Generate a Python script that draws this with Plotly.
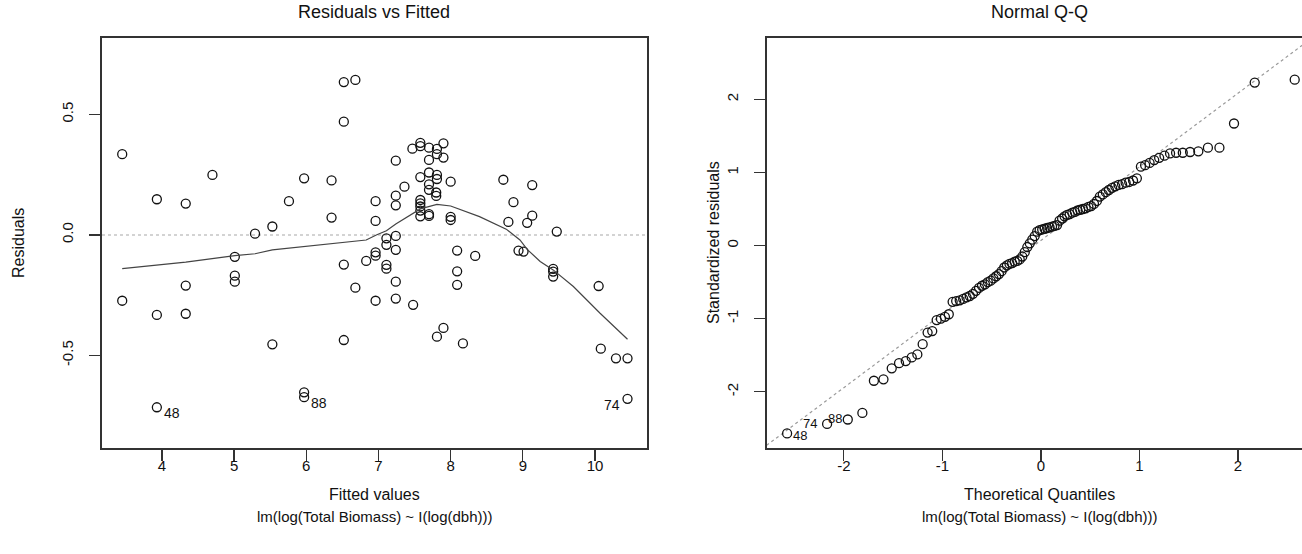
import plotly.graph_objects as go

# ---------------- data ----------------
fitted = [3.45, 3.45, 3.93, 3.93, 3.93, 4.33, 4.33, 4.33, 4.70, 5.01,
          5.01, 5.01, 5.29, 5.53, 5.53, 5.76, 5.97, 5.97, 5.97, 6.35,
          6.35, 6.52, 6.52, 6.52, 6.52, 6.68, 6.68, 6.83, 6.96, 6.96,
          6.96, 6.96, 6.96, 7.11, 7.11, 7.11, 7.11, 7.24, 7.24, 7.24,
          7.24, 7.24, 7.24, 7.24, 7.36, 7.48, 7.47, 7.58, 7.58, 7.58,
          7.58, 7.58, 7.58, 7.58, 7.58, 7.70, 7.70, 7.70, 7.70, 7.70,
          7.70, 7.70, 7.81, 7.81, 7.81, 7.81, 7.80, 7.80, 7.81, 7.90,
          7.90, 7.90, 8.00, 8.00, 8.00, 8.09, 8.09, 8.09, 8.17, 8.34,
          8.73, 8.80, 8.87, 8.94, 9.01, 9.06, 9.13, 9.13, 9.42, 9.42,
          9.42, 9.47, 10.05, 10.08, 10.29, 10.45, 10.45]
residuals = [0.335, -0.273, 0.148, -0.332, -0.715, 0.130, -0.210, -0.327, 0.249, -0.091,
             -0.169, -0.194, 0.005, 0.035, -0.454, 0.140, 0.235, -0.653, -0.673, 0.226,
             0.072, 0.634, 0.470, -0.123, -0.436, 0.643, -0.219, -0.108, 0.140, 0.058,
             -0.072, -0.086, -0.273, -0.014, -0.041, -0.124, -0.140, 0.308, 0.163, 0.123,
             -0.004, -0.062, -0.194, -0.264, 0.200, -0.290, 0.358, 0.382, 0.368, 0.240,
             0.145, 0.131, 0.118, 0.101, 0.077, 0.362, 0.311, 0.259, 0.210, 0.187,
             0.086, 0.079, 0.357, 0.335, 0.249, 0.232, 0.176, 0.162, -0.422, 0.380,
             0.321, -0.386, 0.221, 0.075, 0.062, -0.065, -0.151, -0.207, -0.450, -0.087,
             0.229, 0.054, 0.136, -0.065, -0.069, 0.050, 0.207, 0.080, -0.141, -0.152,
             -0.173, 0.014, -0.212, -0.472, -0.512, -0.512, -0.680]
resid_label_text = ["48", "88", "74"]
resid_label_index = [4, 18, 96]

smooth_x = [3.45, 3.93, 4.33, 5.01, 5.29, 5.53, 6.35, 6.83, 6.97, 7.11, 7.24, 7.58,
            7.81, 8.00, 8.40, 8.77, 8.96, 9.06, 9.24, 9.42, 9.70, 10.07, 10.45]
smooth_y = [-0.140, -0.125, -0.113, -0.086, -0.078, -0.062, -0.038, -0.021, 0.000, 0.017,
            0.045, 0.108, 0.127, 0.120, 0.076, 0.024, -0.021, -0.060, -0.110, -0.145,
            -0.214, -0.325, -0.433]

theoretical_quantiles = [
    -2.576, -2.170, -1.960, -1.812, -1.695, -1.598, -1.514, -1.440, -1.372, -1.311,
    -1.254, -1.200, -1.150, -1.103, -1.058, -1.015, -0.974, -0.935, -0.896, -0.860,
    -0.824, -0.789, -0.755, -0.722, -0.690, -0.659, -0.628, -0.598, -0.568, -0.539,
    -0.510, -0.482, -0.454, -0.426, -0.399, -0.372, -0.345, -0.319, -0.292, -0.266,
    -0.240, -0.215, -0.189, -0.164, -0.138, -0.113, -0.088, -0.063, -0.038, -0.013,
    0.013, 0.038, 0.063, 0.088, 0.113, 0.138, 0.164, 0.189, 0.215, 0.240,
    0.266, 0.292, 0.319, 0.345, 0.372, 0.399, 0.426, 0.454, 0.482, 0.510,
    0.539, 0.568, 0.598, 0.628, 0.659, 0.690, 0.722, 0.755, 0.789, 0.824,
    0.860, 0.896, 0.935, 0.974, 1.015, 1.058, 1.103, 1.150, 1.200, 1.254,
    1.311, 1.372, 1.440, 1.514, 1.598, 1.695, 1.812, 1.960, 2.170, 2.576]
standardized_residuals = [
    -2.57, -2.44, -2.38, -2.29, -1.85, -1.83, -1.68, -1.61, -1.58, -1.53,
    -1.49, -1.35, -1.19, -1.17, -1.02, -1.00, -0.975, -0.94, -0.77, -0.76,
    -0.75, -0.73, -0.71, -0.69, -0.66, -0.62, -0.58, -0.55, -0.53, -0.50,
    -0.48, -0.45, -0.42, -0.39, -0.35, -0.30, -0.27, -0.25, -0.24, -0.22,
    -0.21, -0.19, -0.15, -0.09, -0.02, 0.03, 0.08, 0.13, 0.19, 0.21,
    0.22, 0.23, 0.24, 0.25, 0.26, 0.27, 0.28, 0.34, 0.37, 0.40,
    0.42, 0.43, 0.45, 0.46, 0.48, 0.49, 0.50, 0.51, 0.53, 0.54,
    0.57, 0.61, 0.67, 0.70, 0.73, 0.76, 0.79, 0.81, 0.83, 0.84,
    0.86, 0.87, 0.89, 0.92, 1.08, 1.10, 1.13, 1.17, 1.20, 1.23,
    1.26, 1.27, 1.27, 1.28, 1.29, 1.34, 1.34, 1.67, 2.23, 2.27]
qq_label_text = ["48", "74", "88"]
qq_label_index = [0, 1, 2]
qqline_intercept = 0.07
qqline_slope = 1.007

left_xticks = [4, 5, 6, 7, 8, 9, 10]
left_yticks = [-0.5, 0.0, 0.5]
left_yticklabels = ["-0.5", "0.0", "0.5"]
right_xticks = [-2, -1, 0, 1, 2]
right_xticklabels = ["-2", "-1", "0", "1", "2"]
right_yticks = [-2, -1, 0, 1, 2]
right_yticklabels = ["-2", "-1", "0", "1", "2"]

# ---------------- layout helpers ----------------
W, H = 1302, 554
FONT = "Liberation Sans, Arial, Helvetica, sans-serif"
INK = "#111111"
AXC = "#333333"


def px(x):
    return x / W


def py(y):
    return 1 - y / H


left_xrange = [3.17, 10.72]
left_yrange = [-0.884, 0.817]
right_xrange = [-2.78, 2.65]
right_yrange = [-2.77, 2.84]

fig = go.Figure()

# Residuals vs Fitted
fig.add_trace(go.Scatter(
    x=fitted, y=residuals, mode="markers", xaxis="x", yaxis="y",
    marker=dict(symbol="circle-open", size=9, color=INK, line=dict(width=1.3))))
fig.add_trace(go.Scatter(
    x=smooth_x, y=smooth_y, mode="lines", xaxis="x", yaxis="y",
    line=dict(color="#444444", width=1.2)))

# Normal Q-Q
qq_lx = [right_xrange[0] - 0.2, right_xrange[1] + 0.2]
qq_ly = [qqline_intercept + qqline_slope * v for v in qq_lx]
fig.add_trace(go.Scatter(
    x=qq_lx, y=qq_ly, mode="lines", xaxis="x2", yaxis="y2",
    line=dict(color="#9a9a9a", width=1.2, dash="dot")))
fig.add_trace(go.Scatter(
    x=theoretical_quantiles, y=standardized_residuals, mode="markers",
    xaxis="x2", yaxis="y2",
    marker=dict(symbol="circle-open", size=9, color=INK, line=dict(width=1.3))))

axis_common = dict(showgrid=False, zeroline=False, showline=True, linecolor=AXC,
                   linewidth=1.6, ticks="outside", ticklen=11, tickwidth=1.3,
                   tickcolor=AXC, tickfont=dict(family=FONT, size=15, color=INK))

fig.update_layout(
    width=W, height=H, margin=dict(l=0, r=0, t=0, b=0),
    paper_bgcolor="white", plot_bgcolor="white", showlegend=False,
    hovermode=False,
    font=dict(family=FONT, color=INK),
    xaxis=dict(domain=[px(102), px(647)], range=left_xrange, anchor="y",
               tickvals=left_xticks, mirror=True, ticklabelstandoff=-8,
               **axis_common),
    yaxis=dict(domain=[py(448), py(38)], range=left_yrange, anchor="x",
               tickvals=left_yticks, ticktext=left_yticklabels, tickangle=-90,
               ticklabelstandoff=10, mirror=True, **axis_common),
    xaxis2=dict(domain=[px(767), 1.0], range=right_xrange, anchor="y2",
                tickvals=right_xticks, ticktext=right_xticklabels, mirror=True,
                ticklabelstandoff=-8, **axis_common),
    yaxis2=dict(domain=[py(448), py(38)], range=right_yrange, anchor="x2",
                tickvals=right_yticks, ticktext=right_yticklabels, tickangle=-90,
                ticklabelstandoff=10, mirror=False, **axis_common),
)

# zero reference line on the left panel
fig.add_shape(type="line", xref="x domain", yref="y", x0=0, x1=1, y0=0, y1=0,
              line=dict(color="#a8a8a8", width=1.1, dash="dot"), layer="below")

ann = []


def text(x, y, s, size=15, angle=0):
    ann.append(dict(x=px(x), y=py(y), xref="paper", yref="paper", text=s,
                    showarrow=False, textangle=angle, xanchor="center",
                    yanchor="middle", font=dict(family=FONT, size=size, color=INK)))


text(374, 12, "Residuals vs Fitted", 18)
text(1039, 12, "Normal Q-Q", 18)
text(374, 494, "Fitted values", 16)
text(374, 516, "lm(log(Total Biomass) ~ I(log(dbh)))", 15)
text(1039, 494, "Theoretical Quantiles", 16)
text(1039, 516, "lm(log(Total Biomass) ~ I(log(dbh)))", 15)
text(18, 243, "Residuals", 16, -90)
text(713, 243, "Standardized residuals", 16, -90)

# point id labels
for s, i in zip(resid_label_text, resid_label_index):
    right_side = fitted[i] < sum(left_xrange) / 2
    ann.append(dict(x=fitted[i], y=residuals[i], xref="x", yref="y", text=s,
                    showarrow=False, xanchor="left" if right_side else "right",
                    xshift=5 if right_side else -6, yshift=-6,
                    font=dict(family=FONT, size=14, color=INK)))
qq_shift = {"48": (4, -2, "left"), "74": (-8, 0, "right"), "88": (-4, 1, "right")}
for s, i in zip(qq_label_text, qq_label_index):
    dx, dy, anc = qq_shift[s]
    ann.append(dict(x=theoretical_quantiles[i], y=standardized_residuals[i], xref="x2",
                    yref="y2", text=s, showarrow=False, xanchor=anc, xshift=dx,
                    yshift=dy, font=dict(family=FONT, size=13, color=INK)))

fig.update_layout(annotations=ann)
fig.write_html("out.html", config={"displayModeBar": False, "staticPlot": True},
               post_script="document.body.style.margin='0px';")
